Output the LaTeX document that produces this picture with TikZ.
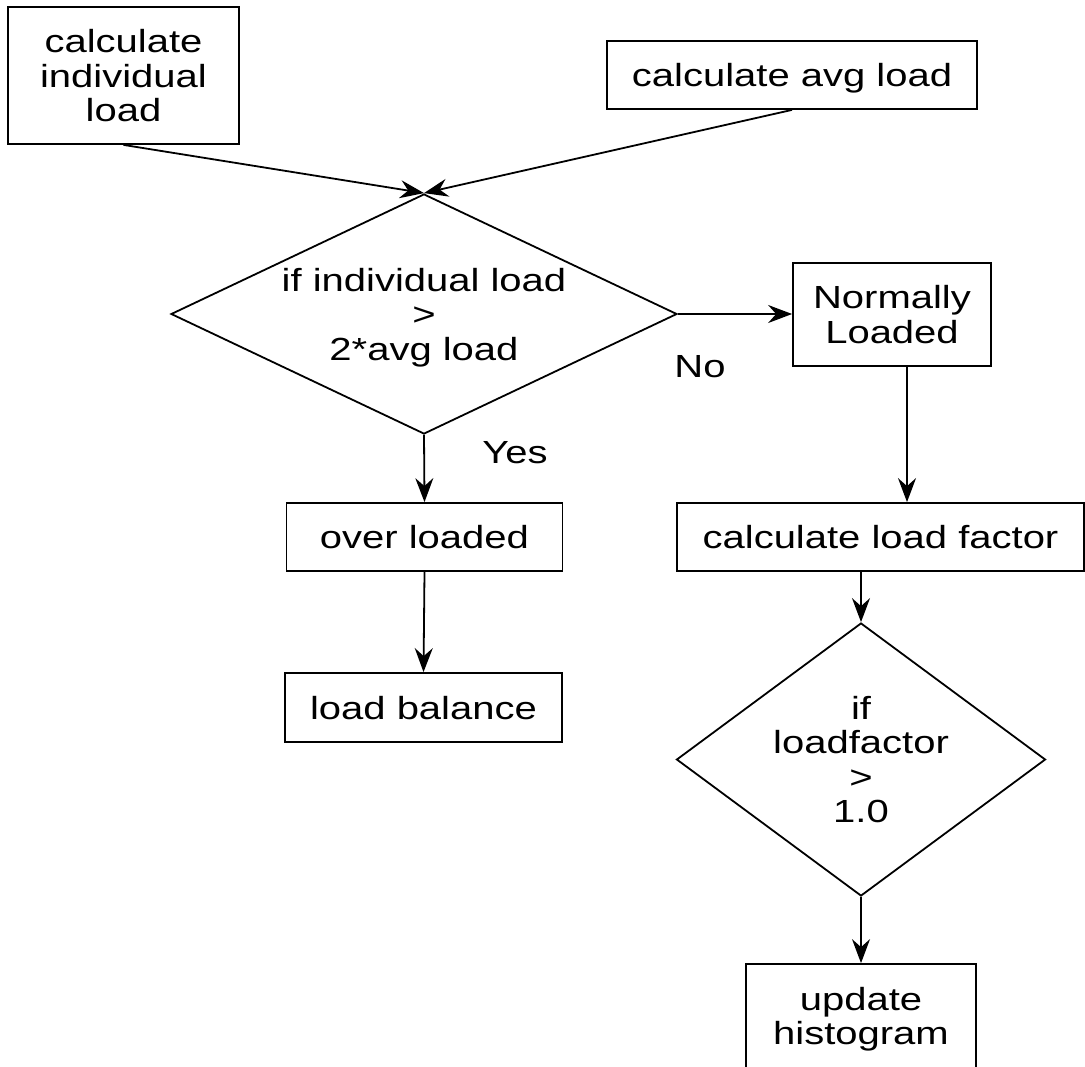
\documentclass[tikz,border=0pt]{standalone}
\usepackage{fontspec}
\setmainfont[FakeStretch=1.25]{Liberation Sans}
\usetikzlibrary{shapes.geometric,arrows.meta}

\begin{document}
\begin{tikzpicture}[x=0.5pt,y=-0.5pt,line width=0.9pt,
    every node/.style={font=\fontsize{16}{17.2}\selectfont,align=center,text depth=0pt},
    procbox/.style={draw,rectangle,inner sep=0pt},
    decbox/.style={draw,diamond,inner sep=0pt},
    flow/.style={-{Stealth[length=12pt,width=9pt,inset=4pt]}}]
    \clip (0,0) rectangle (1085,1066);
    \fill[white] (0,0) rectangle (1085,1066);

    % inputs
    \node[procbox,minimum width=115.5pt,minimum height=68.5pt] (indiv) at (123.5,75.5) {calculate\\individual\\load};
    \node[procbox,minimum width=185pt,minimum height=34pt] (avg) at (792,75) {calculate avg load};

    % first test
    \node[decbox,aspect=2.1,minimum width=253pt,minimum height=120pt] (test1) at (424,314) {if individual load\\>\\2*avg load};
    \node (yes) at (515,452) {Yes};
    \node (no) at (700,366) {No};

    % left branch
    \node[procbox,minimum width=138pt,minimum height=34pt] (over) at (424.5,537) {over loaded};
    \node[procbox,minimum width=138.5pt,minimum height=34.5pt] (balance) at (423.5,707.5) {load balance};

    % right branch
    \node[procbox,minimum width=99pt,minimum height=51.5pt] (normal) at (892,314.5) {Normally\\Loaded};
    \node[procbox,minimum width=203.5pt,minimum height=34pt] (factor) at (880.5,537) {calculate load factor};
    \node[decbox,aspect=1.35,minimum width=184.5pt,minimum height=136.5pt] (test2) at (861,759.5) {if\\loadfactor\\>\\1.0};
    \node[procbox,minimum width=115pt,minimum height=52pt] (hist) at (861,1016) {update\\histogram};

    % connectors
    \draw[flow] (indiv.south) -- (test1.north);
    \draw[flow] (avg.south) -- (test1.north);
    \draw[flow] (test1.east) -- (test1.east -| normal.west);
    \draw[flow] (test1.south) -- (over.north);
    \draw[flow] (over.south) -- (balance.north);
    \draw[flow] ([xshift=7.5pt]normal.south) -- ([xshift=7.5pt]normal.south |- factor.north);
    \draw[flow] (test2.north |- factor.south) -- (test2.north);
    \draw[flow] (test2.south) -- (hist.north);
\end{tikzpicture}
\end{document}
